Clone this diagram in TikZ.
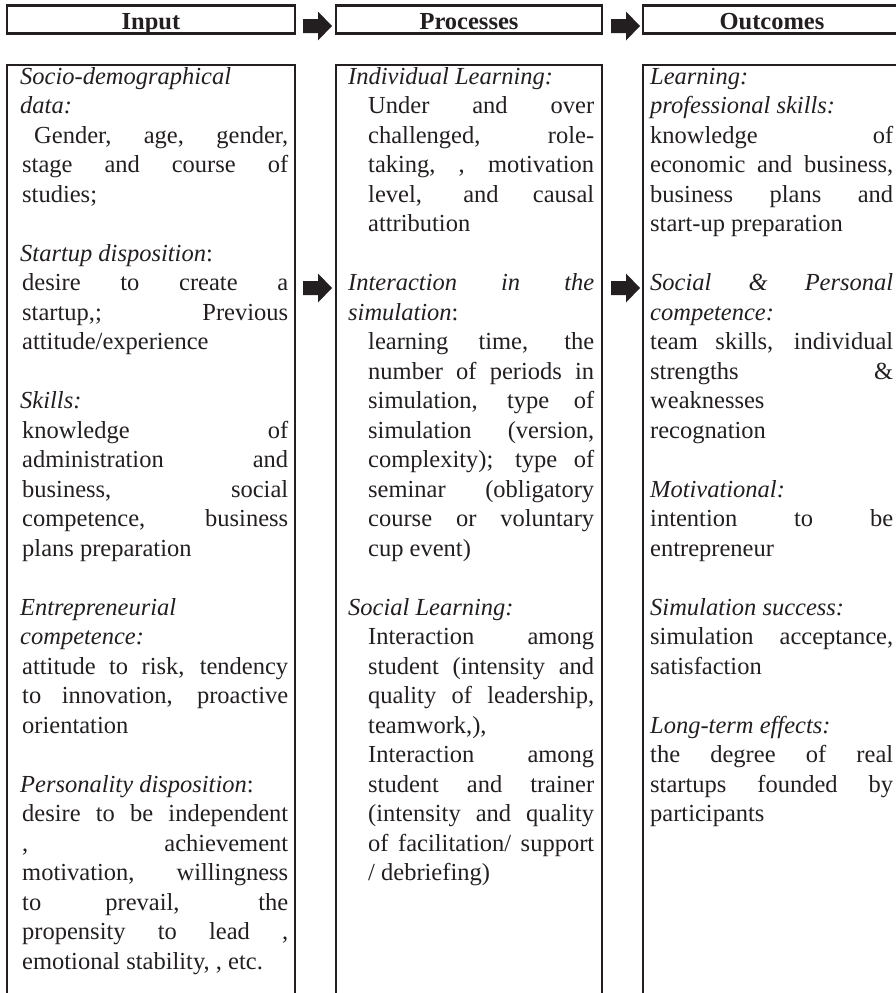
\documentclass[tikz,border=0pt]{standalone}
\usepackage{fontspec}
\setmainfont{Liberation Serif}
\definecolor{ink}{HTML}{231F20}
\tolerance=10000
\hbadness=10000

\newlength\detailskip
\newcommand\topic[1]{\noindent#1\par}
\newcommand\detail[1]{{\leftskip=\detailskip\noindent#1\par}}
\newcommand\gap{\vspace{29.5pt}}
% fat arrow pointing right, starting at #1
\newcommand\blockarrow[1]{\fill[arrowfill] (#1) ++(0,-7) -- ++(15,0) -- ++(0,-7.5)
  -- ++(14,14.5) -- ++(-14,14.5) -- ++(0,-7.5) -- ++(-15,0) -- cycle;}

\begin{document}
\begin{tikzpicture}[x=1pt, y=-1pt,
    colhead/.style={draw=ink, line width=2.2pt, inner sep=0pt, minimum height=28pt,
      text height=19pt, text depth=0pt, text=ink,
      font=\fontsize{24.5}{29.5}\selectfont\bfseries},
    colbody/.style={draw=ink, line width=2.2pt, inner sep=0pt, minimum height=955pt},
    coltext/.style={anchor=base west, inner sep=0pt, text=ink, align=justify,
      font=\fontsize{24.5}{29.5}\selectfont},
    arrowfill/.style={fill=ink}]
  \useasboundingbox (0,0) rectangle (896,993);
  \clip (0,0) rectangle (896,993);

  % column heads
  \node[colhead, minimum width=288pt] (inhead) at (151,19.5) {Input};
  \node[colhead, minimum width=266pt] (prhead) at (469,19.5) {Processes};
  \node[colhead, minimum width=258pt] (outhead) at (772,19.5) {Outcomes};

  % column bodies (run on past the bottom)
  \node[colbody, minimum width=288pt] (inbody) at (151,542.5) {};
  \node[colbody, minimum width=266pt] (prbody) at (469,542.5) {};
  \node[colbody, minimum width=258pt] (outbody) at (772,542.5) {};

  \coordinate (arr1) at (303,26);
  \coordinate (arr2) at (611,26);
  \coordinate (arr3) at (303,288);
  \coordinate (arr4) at (611,288);
  \blockarrow{arr1}
  \blockarrow{arr2}
  \blockarrow{arr3}
  \blockarrow{arr4}

  % Input
  \node[coltext, text width=268pt] (intext) at (20,84) {\setlength\detailskip{2pt}%
    \topic{\textit{Socio-demographical}\newline\textit{data:}}
    \detail{\hspace*{12pt}Gender, age, gender,\linebreak stage and course of\linebreak studies;}
    \gap
    \topic{\textit{Startup disposition}:}
    \detail{desire to create a\linebreak startup,; Previous\linebreak attitude/experience}
    \gap
    \topic{\textit{Skills:}}
    \detail{knowledge of\linebreak administration and\linebreak business, social\linebreak
      competence, business\linebreak plans preparation}
    \gap
    \topic{\textit{Entrepreneurial}\newline\textit{competence:}}
    \detail{attitude to risk, tendency\linebreak to innovation, proactive\linebreak orientation}
    \gap
    \topic{\textit{Personality disposition}:}
    \detail{desire to be independent\linebreak , achievement\linebreak motivation, willingness\linebreak
      to prevail, the\linebreak propensity to lead ,\linebreak emotional stability, , etc.}};

  % Processes
  \node[coltext, text width=246pt] (prtext) at (348,84) {\setlength\detailskip{20pt}%
    \topic{\textit{Individual Learning:}}
    \detail{Under and over\linebreak challenged, role-\linebreak taking, , motivation\linebreak
      level, and causal\linebreak attribution}
    \gap
    \topic{\textit{Interaction in the}\linebreak\textit{simulation}:}
    \detail{learning time, the\linebreak number of periods in\linebreak simulation, type of\linebreak
      simulation (version,\linebreak complexity); type of\linebreak seminar (obligatory\linebreak
      course or voluntary\linebreak cup event)}
    \gap
    \topic{\textit{Social Learning:}}
    \detail{Interaction among\linebreak student (intensity and\linebreak quality of leadership,\linebreak
      teamwork,),}
    \detail{Interaction among\linebreak student and trainer\linebreak (intensity and quality\linebreak
      of facilitation/ support\linebreak / debriefing)}};

  % Outcomes
  \node[coltext, text width=243pt] (outtext) at (650,84) {\setlength\detailskip{0pt}%
    \topic{\textit{Learning:}\newline\textit{professional skills:}}
    \detail{knowledge of\linebreak economic and business,\linebreak business plans and\linebreak
      start-up preparation}
    \gap
    \topic{\textit{Social \& Personal}\linebreak\textit{competence:}}
    \detail{team skills, individual\linebreak strengths \&\linebreak weaknesses\newline recognation}
    \gap
    \topic{\textit{Motivational:}}
    \detail{intention to be\linebreak entrepreneur}
    \gap
    \topic{\textit{Simulation success:}}
    \detail{simulation acceptance,\linebreak satisfaction}
    \gap
    \topic{\textit{Long-term effects:}}
    \detail{the degree of real\linebreak startups founded by\linebreak participants}};
\end{tikzpicture}
\end{document}
